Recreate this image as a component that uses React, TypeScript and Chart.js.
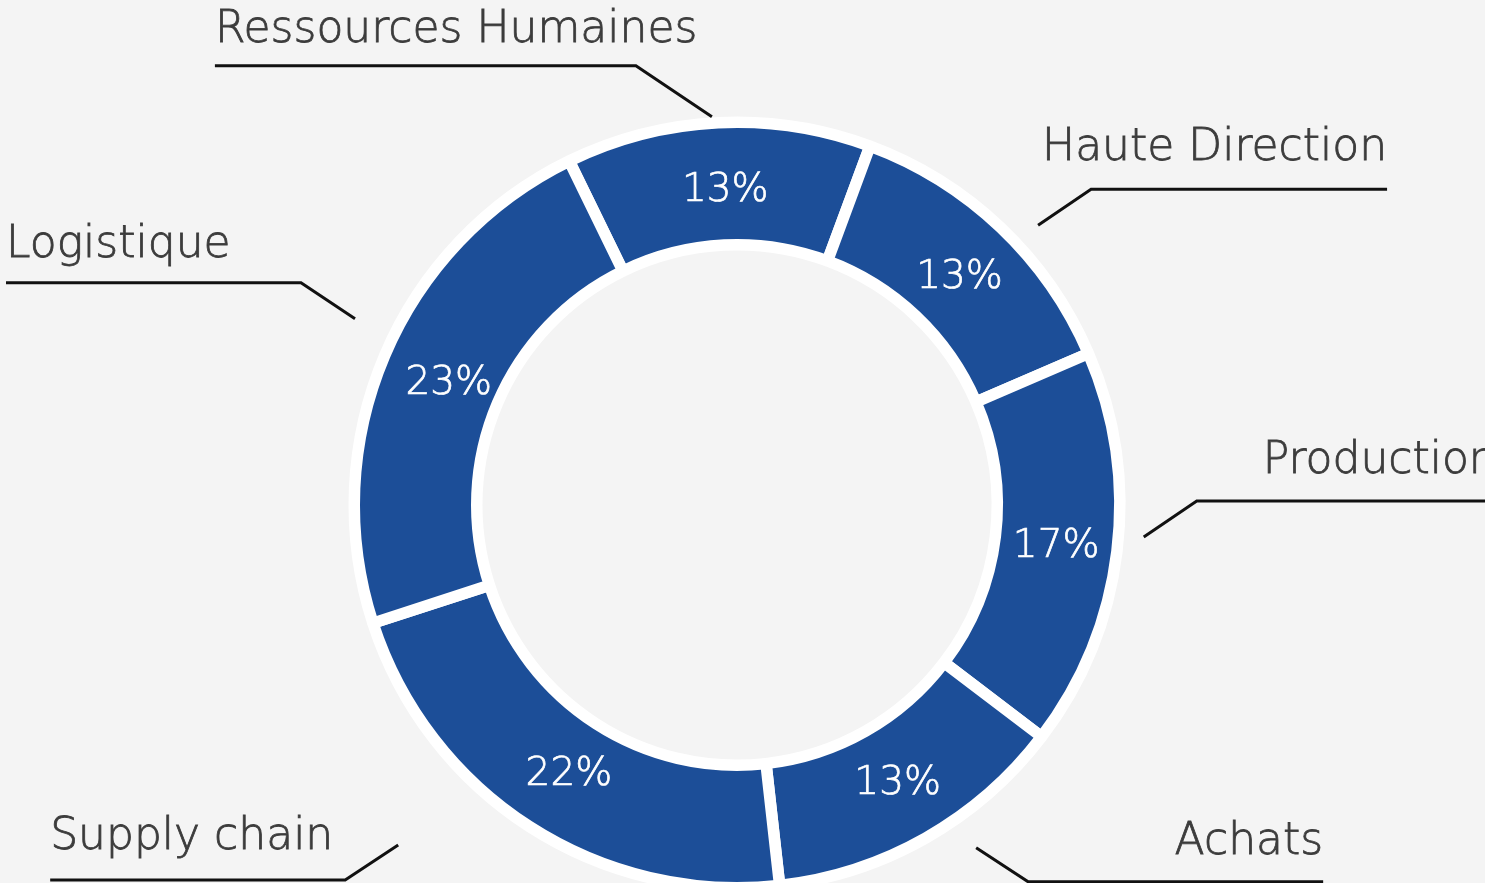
import React, { useEffect, useRef } from "react";
import { Chart, registerables } from "chart.js";

Chart.register(...registerables);

// ---- data ----
const categories = [
  "Ressources Humaines",
  "Haute Direction",
  "Production",
  "Achats",
  "Supply chain",
  "Logistique",
];
const shares = [13, 13, 17, 13, 22, 23];
const percentLabels = ["13%", "13%", "17%", "13%", "22%", "23%"];

// ---- style / layout ----
const BLUE = "#1c4e98";
const BG = "#f4f4f4";
const W = 1485;
const H = 883;
const CX = 737;
const CY = 505;

// leader line layout: anchor in polar coords around the doughnut centre
// (angle in degrees clockwise from top), elbow offset, horizontal length, text gap
const leaders = [
  { angle: -3.7, r: 389, dx: -76, dy: -51, len: 421, gap: 24 },
  { angle: 47.1, r: 411, dx: 53, dy: -36, len: 296, gap: 29 },
  { angle: 94.5, r: 408, dx: 53, dy: -36, len: 300, gap: 28 },
  { angle: 145.1, r: 418, dx: 52, dy: 34, len: 295, gap: 28 },
  { angle: 224.9, r: 480, dx: -53, dy: 35, len: 295, gap: 31 },
  { angle: 296, r: 425, dx: -54, dy: -36, len: 295, gap: 26 },
];

const labelPlugin = {
  id: "leaderLabels",
  afterDatasetsDraw(chart: any, _args: any, opts: any) {
    const ctx: CanvasRenderingContext2D = chart.ctx;
    const meta = chart.getDatasetMeta(0);
    meta.data.forEach((arc: any, i: number) => {
      const p = arc.getProps(
        ["x", "y", "startAngle", "endAngle", "innerRadius", "outerRadius"],
        true
      );
      const mid = (p.startAngle + p.endAngle) / 2;
      const rr = (p.innerRadius + p.outerRadius) / 2 - 4;
      ctx.save();
      ctx.fillStyle = "#ffffff";
      ctx.strokeStyle = "#ffffff";
      ctx.lineWidth = 0.7;
      ctx.font = opts.valueFont;
      ctx.textAlign = "center";
      ctx.textBaseline = "middle";
      const vx = p.x + Math.cos(mid) * rr + 4;
      const vy = p.y + Math.sin(mid) * rr + 3;
      ctx.fillText(percentLabels[i], vx, vy);
      ctx.strokeText(percentLabels[i], vx, vy);

      const L = leaders[i];
      const a = ((L.angle - 90) * Math.PI) / 180;
      const x0 = p.x + Math.cos(a) * L.r;
      const y0 = p.y + Math.sin(a) * L.r;
      const x1 = x0 + L.dx;
      const y1 = y0 + L.dy;
      const side = L.dx > 0 ? 1 : -1;
      const x2 = x1 + side * L.len;
      ctx.strokeStyle = "#111111";
      ctx.lineWidth = 3;
      ctx.lineJoin = "miter";
      ctx.beginPath();
      ctx.moveTo(x0, y0);
      ctx.lineTo(x1, y1);
      ctx.lineTo(x2, y1);
      ctx.stroke();

      ctx.fillStyle = "#3c3c3c";
      ctx.strokeStyle = "#3c3c3c";
      ctx.lineWidth = 0.8;
      ctx.font = opts.labelFont;
      ctx.textAlign = side > 0 ? "right" : "left";
      ctx.textBaseline = "alphabetic";
      ctx.fillText(categories[i], x2, y1 - L.gap);
      ctx.strokeText(categories[i], x2, y1 - L.gap);
      ctx.restore();
    });
  },
};

export default function App() {
  const canvasRef = useRef<HTMLCanvasElement | null>(null);

  useEffect(() => {
    if (!canvasRef.current) return;
    const border = 11.5;
    const outer = 377 + border / 2;
    const inner = 266 - border / 2;
    const half = 300;
    const chart = new Chart(canvasRef.current, {
      type: "doughnut",
      data: {
        labels: categories,
        datasets: [
          {
            data: shares,
            backgroundColor: BLUE,
            borderColor: "#ffffff",
            borderWidth: border,
            borderAlign: "center",
            radius: outer,
            cutout: ((inner / outer) * 100).toFixed(3) + "%",
            clip: false,
          } as any,
        ],
      },
      options: {
        responsive: false,
        animation: false,
        devicePixelRatio: 1,
        rotation: -26,
        layout: {
          padding: {
            left: CX - half,
            right: W - CX - half,
            top: CY - half,
            bottom: H - CY - half,
          },
        },
        plugins: {
          legend: { display: false },
          tooltip: { enabled: false },
          leaderLabels: {
            valueFont: '300 39px "DejaVu Sans"',
            labelFont: '300 44px "DejaVu Sans"',
          },
        } as any,
      },
      plugins: [labelPlugin],
    });
    return () => chart.destroy();
  }, []);

  return (
    <div
      style={{
        position: "fixed",
        left: 0,
        top: 0,
        width: W,
        height: H,
        background: BG,
        overflow: "hidden",
      }}
    >
      <canvas
        ref={canvasRef}
        width={W}
        height={H}
        style={{ display: "block", width: W, height: H }}
      />
    </div>
  );
}
